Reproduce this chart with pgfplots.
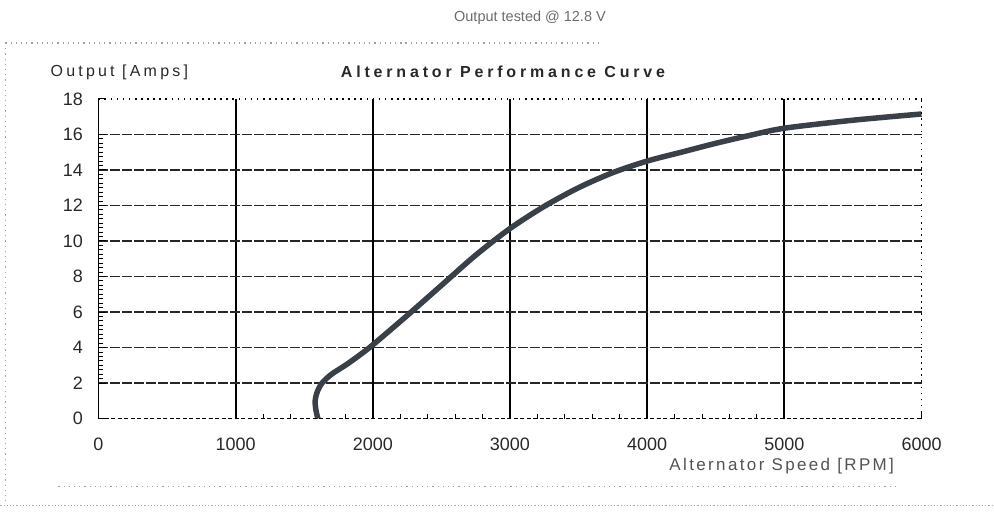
\documentclass[border=0pt]{standalone}
\usepackage{fontspec}
\setmainfont{Liberation Sans}
\newfontfamily\wide[LetterSpace=20]{Liberation Sans}
\newfontfamily\widec[LetterSpace=14]{Liberation Sans}
\newfontfamily\wideb[LetterSpace=24]{Liberation Sans}
\usepackage{pgfplots}
\pgfplotsset{compat=1.18}
\definecolor{ink}{RGB}{40,40,40}
\definecolor{curve}{RGB}{58,64,72}
\begin{document}
\begin{tikzpicture}
\begin{axis}[
  scale only axis,
  width=824pt, height=320pt,
  xmin=0, xmax=6000, ymin=0, ymax=18,
  axis line style={draw=none},
  xtick={1000,2000,3000,4000,5000},
  extra x ticks={0,6000},
  extra x tick style={xmajorgrids=false},
  ytick={2,4,...,16},
  extra y ticks={0,18},
  extra y tick style={ymajorgrids=false},
  minor x tick num=4,
  minor y tick num=7,
  xmajorgrids, ymajorgrids,
  major x grid style={black, line width=2pt},
  major y grid style={black!85, line width=1.8pt, dash pattern=on 10pt off 2pt},
  tick align=inside,
  xtick pos=left, ytick pos=left,
  major tick length=8pt, minor tick length=5pt,
  tick style={black, line width=1pt},
  minor tick style={black, line width=0.9pt},
  scaled x ticks=false,
  /pgf/number format/assume math mode=true,
  /pgf/number format/1000 sep={},
  xticklabel style={font=\fontsize{18}{18}\selectfont, text=ink, yshift=-16pt},
  yticklabel style={font=\fontsize{18}{18}\selectfont, text=ink, xshift=-12pt},
  clip=false,
]
\addplot[curve, line width=5.5pt, smooth, tension=0.5] coordinates {
(1600,0) (1585,0.5) (1580,1.0) (1595,1.5) (1630,2.0) (1700,2.5) (1800,3.0)
(1900,3.55) (2000,4.15) (2250,5.8) (2500,7.5) (2750,9.2) (3000,10.7)
(3250,11.95) (3500,13.0) (3750,13.85) (4000,14.5) (4250,15.0) (4500,15.5)
(4750,15.95) (5000,16.35) (5500,16.8) (6000,17.15)
};
\draw[black, line width=1.6pt] (rel axis cs:0,0) -- (rel axis cs:0,1);
\draw[black, line width=1.3pt, dash pattern=on 4pt off 2.5pt] (rel axis cs:0,0) -- (rel axis cs:1,0);
\draw[black, line width=1.6pt, dash pattern=on 1.6pt off 4.5pt] (rel axis cs:0,1) -- (rel axis cs:1,1);
\draw[black, line width=1.6pt, dash pattern=on 1.6pt off 4.5pt] (rel axis cs:1,0) -- (rel axis cs:1,1);
\coordinate (O) at (rel axis cs:0,0);
\end{axis}
\pgfresetboundingbox
\begin{scope}[shift={(O)}, xshift=-98pt, yshift=-98pt, x=1pt, y=1pt]
\path (0,0) rectangle (994,517);
% decorative dotted frame of the scanned sheet
\draw[gray!75, line width=1.2pt, dash pattern=on 1.2pt off 4pt] (5,474) -- (600,474);
\draw[gray!75, line width=1.2pt, dash pattern=on 1.2pt off 4pt] (5,474) -- (5,14);
\draw[gray!75, line width=1.2pt, dash pattern=on 1.2pt off 4pt] (58,30) -- (900,30);
\draw[gray!65, line width=1pt, dash pattern=on 1.2pt off 2pt] (0,11) -- (994,11);
% texts
\node[text=gray!85!black, font=\fontsize{14.5}{14.5}\selectfont] at (530,499) {Output tested @ 12.8 V};
\node[text=ink, font=\wide\fontsize{16}{16}\selectfont, anchor=west, inner sep=0pt] at (50,445) {Output [Amps]};
\node[text=ink, font=\wideb\bfseries\fontsize{16}{16}\selectfont] at (503,445) {Alternator Performance Curve};
\node[text=ink!80, font=\widec\fontsize{17}{17}\selectfont] at (782,50) {Alternator Speed [RPM]};
\end{scope}
\end{tikzpicture}
\end{document}
